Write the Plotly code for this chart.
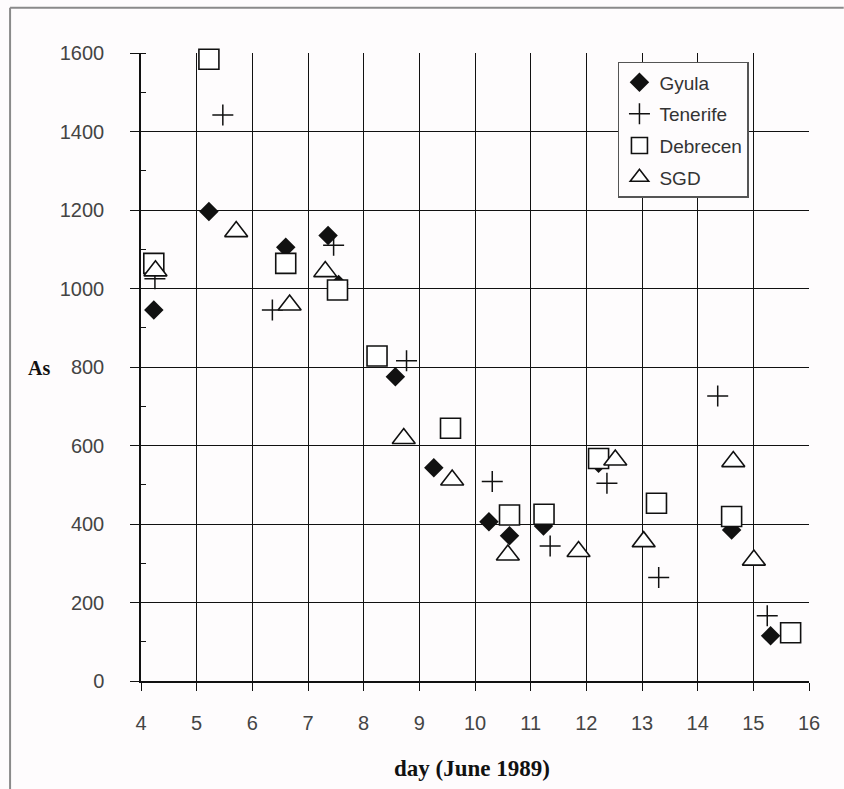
import plotly.graph_objects as go

# Arsenic measurements, June 1989
gyula_day = [4.23, 5.22, 6.60, 7.36, 7.55, 8.57, 9.26, 10.25, 10.62, 11.23, 12.22, 14.61, 15.31]
gyula_as = [945, 1196, 1105, 1135, 1010, 775, 543, 406, 370, 395, 555, 385, 115]

tenerife_day = [4.25, 5.47, 6.36, 7.46, 8.77, 10.31, 11.35, 12.37, 13.30, 14.36, 15.25]
tenerife_as = [1025, 1442, 945, 1110, 816, 508, 344, 504, 264, 726, 166]

debrecen_day = [4.23, 5.22, 6.60, 7.53, 8.24, 9.56, 10.62, 11.24, 12.22, 13.26, 14.61, 15.67]
debrecen_as = [1064, 1584, 1064, 996, 828, 644, 423, 425, 567, 453, 419, 123]

sgd_day = [4.26, 5.71, 6.67, 7.31, 8.72, 9.59, 10.59, 11.86, 12.52, 13.03, 14.64, 15.01]
sgd_as = [1045, 1145, 958, 1043, 618, 512, 321, 330, 563, 355, 559, 308]

x_ticks = list(range(4, 17))
y_ticks = list(range(0, 1601, 200))

BG = "#fefcfd"
INK = "#111111"
SANS = "Liberation Sans, Arial, sans-serif"
SERIF = "Liberation Serif, Times New Roman, serif"

fig = go.Figure()

fig.add_trace(go.Scatter(
    x=gyula_day, y=gyula_as, mode="markers", name="Gyula", legendgroup="g1",
    cliponaxis=False,
    marker=dict(symbol="diamond", size=15, color=INK, line=dict(width=0)),
))
fig.add_trace(go.Scatter(
    x=tenerife_day, y=tenerife_as, mode="markers", name="Tenerife", legendgroup="g2",
    cliponaxis=False,
    marker=dict(symbol="cross-thin", size=15, color=INK, line=dict(width=1.5, color=INK)),
))
fig.add_trace(go.Scatter(
    x=debrecen_day, y=debrecen_as, mode="markers", name="Debrecen", legendgroup="g3",
    cliponaxis=False,
    marker=dict(symbol="square", size=20, color="white", line=dict(width=1.6, color=INK)),
))
fig.add_trace(go.Scatter(
    x=sgd_day, y=sgd_as, mode="markers", name="SGD", legendgroup="g4",
    cliponaxis=False,
    marker=dict(symbol="triangle-up", size=20, color="white", line=dict(width=1.6, color=INK)),
))

fig.update_layout(
    width=844, height=789,
    margin=dict(l=140.5, r=35, t=53, b=108),
    paper_bgcolor=BG, plot_bgcolor=BG,
    showlegend=True,
    legend=dict(
        x=0.714, y=0.986, xanchor="left", yanchor="top",
        bgcolor=BG, bordercolor="#555555", borderwidth=1.5,
        font=dict(family=SANS, size=19, color="#333333"),
        tracegroupgap=4, itemsizing="trace",
    ),
    xaxis=dict(
        range=[4, 16], tickmode="array", tickvals=x_ticks,
        showgrid=True, gridcolor=INK, gridwidth=1.3,
        showline=True, linecolor=INK, linewidth=1.5, mirror=False,
        ticks="outside", ticklen=8, tickwidth=1.3, tickcolor=INK,
        tickfont=dict(family=SANS, size=20, color="#444444"),
        ticklabelstandoff=15, zeroline=False, fixedrange=True,
    ),
    yaxis=dict(
        range=[0, 1600], tickmode="array", tickvals=y_ticks,
        showgrid=True, gridcolor=INK, gridwidth=1.3,
        showline=True, linecolor=INK, linewidth=1.5,
        ticks="outside", ticklen=9, tickwidth=1.3, tickcolor=INK,
        minor=dict(ticks="inside", dtick=100, ticklen=5, tickwidth=1.3,
                   tickcolor=INK, showgrid=False),
        tickfont=dict(family=SANS, size=20, color="#444444"),
        ticklabelstandoff=22, zeroline=False, fixedrange=True,
    ),
    annotations=[
        dict(text="<b>day (June 1989)</b>", xref="paper", yref="paper",
             x=0.496, y=-0.139, xanchor="center", yanchor="middle", showarrow=False,
             font=dict(family=SERIF, size=23, color=INK)),
        dict(text="<b>As</b>", xref="paper", yref="paper",
             x=-0.152, y=0.499, xanchor="center", yanchor="middle", showarrow=False,
             font=dict(family=SERIF, size=20, color=INK)),
    ],
    shapes=[
        # outer frame (top and left edges)
        dict(type="line", xref="paper", yref="paper", x0=-0.196, x1=1.052,
             y0=1.072, y1=1.072, line=dict(color="#8a8a8a", width=2)),
        dict(type="line", xref="paper", yref="paper", x0=-0.196, x1=-0.196,
             y0=1.072, y1=-0.172, line=dict(color="#8a8a8a", width=2)),
    ],
)

fig.write_html("out.html")
